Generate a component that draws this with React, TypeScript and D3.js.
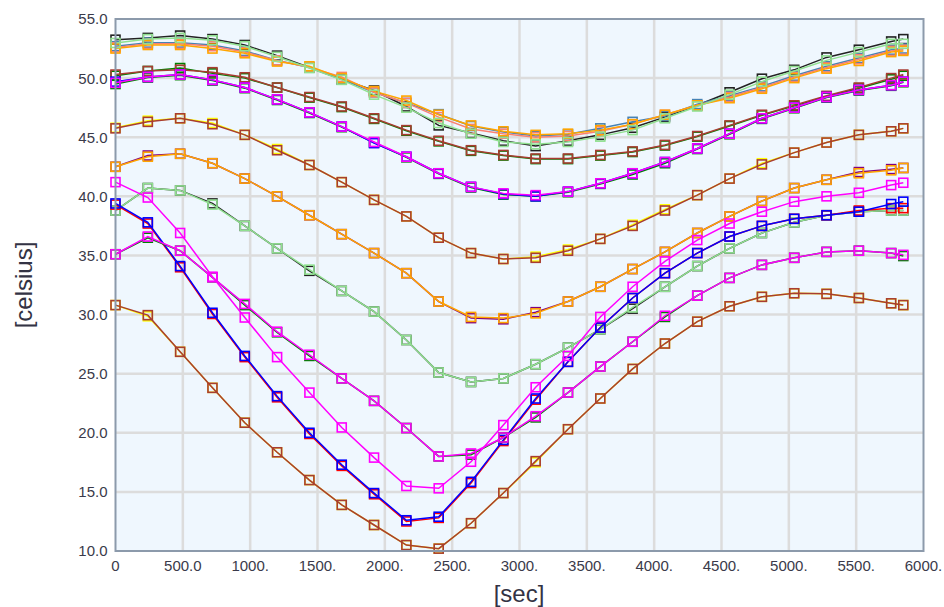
import React, { useEffect, useRef } from "react";
import * as d3 from "d3";

const times = [0, 240, 480, 720, 960, 1200, 1440, 1680, 1920, 2160, 2400, 2640, 2880, 3120, 3360, 3600, 3840, 4080, 4320, 4560, 4800, 5040, 5280, 5520, 5760, 5850];

const xTicks = [0, 500, 1000, 1500, 2000, 2500, 3000, 3500, 4000, 4500, 5000, 5500, 6000];
const xTickLabels = ["0", "500.0", "1000.", "1500.", "2000.", "2500.", "3000.", "3500.", "4000.", "4500.", "5000.", "5500.", "6000."];
const yTicks = [10, 15, 20, 25, 30, 35, 40, 45, 50, 55];
const yTickLabels = ["10.0", "15.0", "20.0", "25.0", "30.0", "35.0", "40.0", "45.0", "50.0", "55.0"];

// top group (~53)
const topBlack = [53.25, 53.4, 53.6, 53.3, 52.8, 51.9, 50.9, 49.9, 48.95, 47.6, 46.0, 45.35, 44.7, 44.25, 44.7, 45.2, 45.8, 46.7, 47.7, 48.8, 49.95, 50.7, 51.75, 52.4, 53.1, 53.3];
const topSteel = [52.7, 53.0, 53.0, 52.8, 52.3, 51.5, 50.9, 49.9, 48.8, 47.9, 46.95, 45.95, 45.45, 45.1, 45.25, 45.75, 46.3, 46.8, 47.8, 48.5, 49.3, 50.2, 51.0, 51.7, 52.4, 52.5];
const topSalmon = [52.6, 52.9, 52.9, 52.7, 52.2, 51.5, 50.9, 50.1, 48.8, 47.9, 46.7, 45.7, 45.3, 45.0, 45.1, 45.5, 46.1, 46.9, 47.7, 48.4, 49.2, 50.1, 50.9, 51.6, 52.3, 52.4];
const topOrange = [52.5, 52.8, 52.8, 52.5, 52.1, 51.4, 51.0, 50.0, 48.9, 48.1, 46.9, 46.0, 45.5, 45.2, 45.3, 45.6, 46.1, 46.9, 47.7, 48.3, 49.1, 50.0, 50.8, 51.45, 52.2, 52.3];
const topGreen = [52.97, 53.3, 53.4, 53.2, 52.7, 51.8, 50.85, 49.85, 48.6, 47.5, 46.2, 45.3, 44.6, 44.4, 44.6, 45.05, 45.6, 46.6, 47.6, 48.6, 49.7, 50.6, 51.5, 52.2, 52.9, 52.9];

// second group (~50)
const secGreen = [50.2, 50.6, 50.85, 50.4, 50.0, 49.2, 48.35, 47.55, 46.55, 45.55, 44.65, 43.85, 43.45, 43.15, 43.15, 43.45, 43.75, 44.3, 45.05, 45.95, 46.85, 47.65, 48.45, 49.15, 49.9, 50.2];
const secBrown = [50.3, 50.6, 50.7, 50.5, 50.07, 49.2, 48.4, 47.6, 46.6, 45.6, 44.7, 43.9, 43.5, 43.2, 43.2, 43.5, 43.8, 44.35, 45.1, 46.0, 46.9, 47.7, 48.5, 49.2, 50.0, 50.3];
const thirdGreen = [49.5, 50.05, 50.25, 49.8, 49.15, 48.15, 47.05, 45.85, 44.55, 43.3, 41.9, 40.75, 40.15, 40.0, 40.35, 41.05, 41.85, 42.8, 44.0, 45.25, 46.55, 47.45, 48.35, 48.95, 49.35, 49.65];
const thirdBlue = [49.7, 50.1, 50.3, 49.85, 49.2, 48.2, 47.1, 45.9, 44.5, 43.35, 41.95, 40.8, 40.2, 40.0, 40.4, 41.1, 41.95, 42.9, 44.05, 45.3, 46.6, 47.5, 48.4, 49.0, 49.4, 49.7];
const thirdMagenta = [49.6, 50.1, 50.3, 49.85, 49.2, 48.2, 47.1, 45.9, 44.6, 43.35, 41.95, 40.8, 40.25, 40.1, 40.4, 41.1, 41.95, 42.9, 44.05, 45.3, 46.6, 47.5, 48.4, 49.0, 49.4, 49.7];

// ~46 group
const midYellow = [45.8, 46.4, 46.6, 46.2, 45.2, 44.0, 42.65, 41.2, 39.7, 38.3, 36.5, 35.2, 34.7, 34.9, 35.5, 36.4, 37.6, 38.9, 40.1, 41.5, 42.8, 43.7, 44.55, 45.2, 45.5, 45.75];
const midBrown = [45.75, 46.3, 46.6, 46.1, 45.2, 43.9, 42.65, 41.2, 39.7, 38.3, 36.5, 35.2, 34.7, 34.8, 35.4, 36.4, 37.5, 38.8, 40.1, 41.5, 42.7, 43.7, 44.55, 45.2, 45.5, 45.75];

// ~42 group
const lowPurple = [42.5, 43.45, 43.6, 42.8, 41.5, 40.0, 38.4, 36.8, 35.2, 33.5, 31.1, 29.7, 29.6, 30.2, 31.1, 32.35, 33.85, 35.3, 36.9, 38.3, 39.6, 40.7, 41.4, 42.05, 42.3, 42.4];
const lowOrange = [42.5, 43.35, 43.6, 42.8, 41.5, 40.0, 38.4, 36.8, 35.2, 33.5, 31.1, 29.8, 29.7, 30.1, 31.1, 32.35, 33.85, 35.3, 36.9, 38.3, 39.6, 40.7, 41.4, 41.95, 42.2, 42.4];

// ~39 group
const greenBlack = [38.8, 40.7, 40.5, 39.4, 37.5, 35.6, 33.7, 32.0, 30.25, 27.85, 25.1, 24.3, 24.6, 25.8, 27.2, 28.75, 30.5, 32.35, 34.1, 35.6, 36.9, 37.8, 38.4, 38.7, 38.8, 38.8];
const greenLight = [38.8, 40.7, 40.5, 39.3, 37.5, 35.6, 33.8, 32.0, 30.25, 27.85, 25.1, 24.3, 24.6, 25.8, 27.2, 28.75, 30.6, 32.35, 34.1, 35.6, 36.9, 37.8, 38.4, 38.7, 38.8, 38.8];

// deep dip curves
const dipRed = [39.3, 37.7, 34.0, 30.05, 26.4, 23.0, 19.9, 17.2, 14.8, 12.5, 12.8, 15.75, 19.3, 22.8, 26.0, 28.9, 31.4, 33.5, 35.2, 36.6, 37.5, 38.1, 38.4, 38.8, 39.0, 39.0];
const dipBlue = [39.4, 37.8, 34.1, 30.15, 26.5, 23.1, 20.0, 17.3, 14.9, 12.6, 12.9, 15.85, 19.4, 22.9, 26.0, 28.9, 31.4, 33.5, 35.2, 36.6, 37.5, 38.1, 38.4, 38.7, 39.35, 39.55];
const dipMagentaA = [41.2, 39.9, 36.9, 33.2, 29.75, 26.4, 23.4, 20.45, 17.9, 15.5, 15.3, 17.55, 20.65, 23.85, 26.5, 29.8, 32.35, 34.5, 36.3, 37.7, 38.7, 39.55, 40.0, 40.3, 40.95, 41.15];
const dipGreen = [35.1, 36.5, 35.4, 33.15, 30.8, 28.5, 26.5, 24.6, 22.7, 20.4, 18.0, 18.15, 19.6, 21.3, 23.4, 25.6, 27.7, 29.8, 31.6, 33.1, 34.2, 34.8, 35.3, 35.4, 35.2, 34.95];
const dipMagentaB = [35.1, 36.6, 35.4, 33.15, 30.9, 28.55, 26.6, 24.6, 22.7, 20.4, 18.0, 18.25, 19.6, 21.4, 23.4, 25.6, 27.7, 29.9, 31.6, 33.1, 34.2, 34.8, 35.3, 35.4, 35.2, 35.05];
const bottomYellow = [30.8, 29.85, 26.85, 23.8, 20.85, 18.35, 16.0, 13.9, 12.2, 10.5, 10.2, 12.35, 14.9, 17.5, 20.3, 22.9, 25.4, 27.55, 29.4, 30.7, 31.5, 31.8, 31.75, 31.4, 30.95, 30.8];
const bottomBrown = [30.8, 29.95, 26.85, 23.8, 20.85, 18.35, 16.0, 13.9, 12.2, 10.5, 10.2, 12.35, 14.9, 17.6, 20.3, 22.9, 25.4, 27.55, 29.4, 30.7, 31.5, 31.8, 31.75, 31.4, 30.95, 30.8];

const seriesList = [
  { values: topBlack, color: "#222222" },
  { values: topSteel, color: "#4682b4" },
  { values: topSalmon, color: "#fa8072" },
  { values: topOrange, color: "#ffa500" },
  { values: topGreen, color: "#90e090" },
  { values: secGreen, color: "#008000" },
  { values: secBrown, color: "#a83c32" },
  { values: thirdGreen, color: "#008000" },
  { values: thirdBlue, color: "#0000ff" },
  { values: thirdMagenta, color: "#ff00ff" },
  { values: midYellow, color: "#ffff00" },
  { values: midBrown, color: "#a83c32" },
  { values: lowPurple, color: "#800080" },
  { values: lowOrange, color: "#ffa500" },
  { values: greenBlack, color: "#222222" },
  { values: greenLight, color: "#90e090" },
  { values: dipRed, color: "#ff0000" },
  { values: dipBlue, color: "#0000ff" },
  { values: dipGreen, color: "#008000" },
  { values: dipMagentaB, color: "#ff00ff" },
  { values: dipMagentaA, color: "#ff00ff" },
  { values: bottomYellow, color: "#ffff00" },
  { values: bottomBrown, color: "#a83c32" },
];

export default function App() {
  const ref = useRef<SVGSVGElement>(null);

  useEffect(() => {
    const svg = d3.select(ref.current);
    svg.selectAll("*").remove();

    const left = 115.5, right = 923.5, top = 19, bottom = 551;
    const x = d3.scaleLinear().domain([0, 6000]).range([left, right]);
    const y = d3.scaleLinear().domain([10, 55]).range([bottom, top]);

    svg.append("rect")
      .attr("x", left).attr("y", top)
      .attr("width", right - left).attr("height", bottom - top)
      .attr("fill", "#eff7fe");

    const grid = svg.append("g").attr("stroke", "#dcdcdc").attr("stroke-width", 2.5);
    grid.selectAll("line.v")
      .data(xTicks.slice(1, -1))
      .enter().append("line")
      .attr("x1", (d) => x(d)).attr("x2", (d) => x(d))
      .attr("y1", top).attr("y2", bottom);
    grid.selectAll("line.h")
      .data(yTicks.slice(1, -1))
      .enter().append("line")
      .attr("x1", left).attr("x2", right)
      .attr("y1", (d) => y(d)).attr("y2", (d) => y(d));

    const line = d3.line<number>()
      .x((d, i) => x(times[i]))
      .y((d) => y(d));

    seriesList.forEach((s) => {
      const g = svg.append("g");
      g.append("path")
        .datum(s.values)
        .attr("d", line)
        .attr("fill", "none")
        .attr("stroke", s.color)
        .attr("stroke-width", 1.5);
      g.selectAll("rect")
        .data(s.values)
        .enter().append("rect")
        .attr("x", (d, i) => x(times[i]) - 4.5)
        .attr("y", (d) => y(d) - 4.5)
        .attr("width", 9).attr("height", 9)
        .attr("fill", "none")
        .attr("stroke", s.color)
        .attr("stroke-width", 1.6);
    });

    svg.append("rect")
      .attr("x", left).attr("y", top)
      .attr("width", right - left).attr("height", bottom - top)
      .attr("fill", "none")
      .attr("stroke", "#8c9aab")
      .attr("stroke-width", 2);

    const font = "'Liberation Sans', Arial, sans-serif";

    svg.append("g").selectAll("text")
      .data(yTicks)
      .enter().append("text")
      .attr("x", left - 8)
      .attr("y", (d) => y(d))
      .attr("dy", "0.36em")
      .attr("text-anchor", "end")
      .attr("font-family", font)
      .attr("font-size", 15)
      .attr("fill", "#3a3a4a")
      .text((d, i) => yTickLabels[i]);

    svg.append("g").selectAll("text")
      .data(xTicks)
      .enter().append("text")
      .attr("x", (d) => x(d))
      .attr("y", 571)
      .attr("text-anchor", "middle")
      .attr("font-family", font)
      .attr("font-size", 15)
      .attr("fill", "#3a3a4a")
      .text((d, i) => xTickLabels[i]);

    svg.append("text")
      .attr("transform", "translate(32,285) rotate(-90)")
      .attr("text-anchor", "middle")
      .attr("font-family", font)
      .attr("font-size", 24)
      .attr("fill", "#333344")
      .text("[celsius]");

    svg.append("text")
      .attr("x", 519)
      .attr("y", 602)
      .attr("text-anchor", "middle")
      .attr("font-family", font)
      .attr("font-size", 24)
      .attr("fill", "#333344")
      .text("[sec]");
  }, []);

  return (
    <svg
      ref={ref}
      width={944}
      height={607}
      style={{ position: "absolute", left: 0, top: 0, background: "#ffffff" }}
    />
  );
}
